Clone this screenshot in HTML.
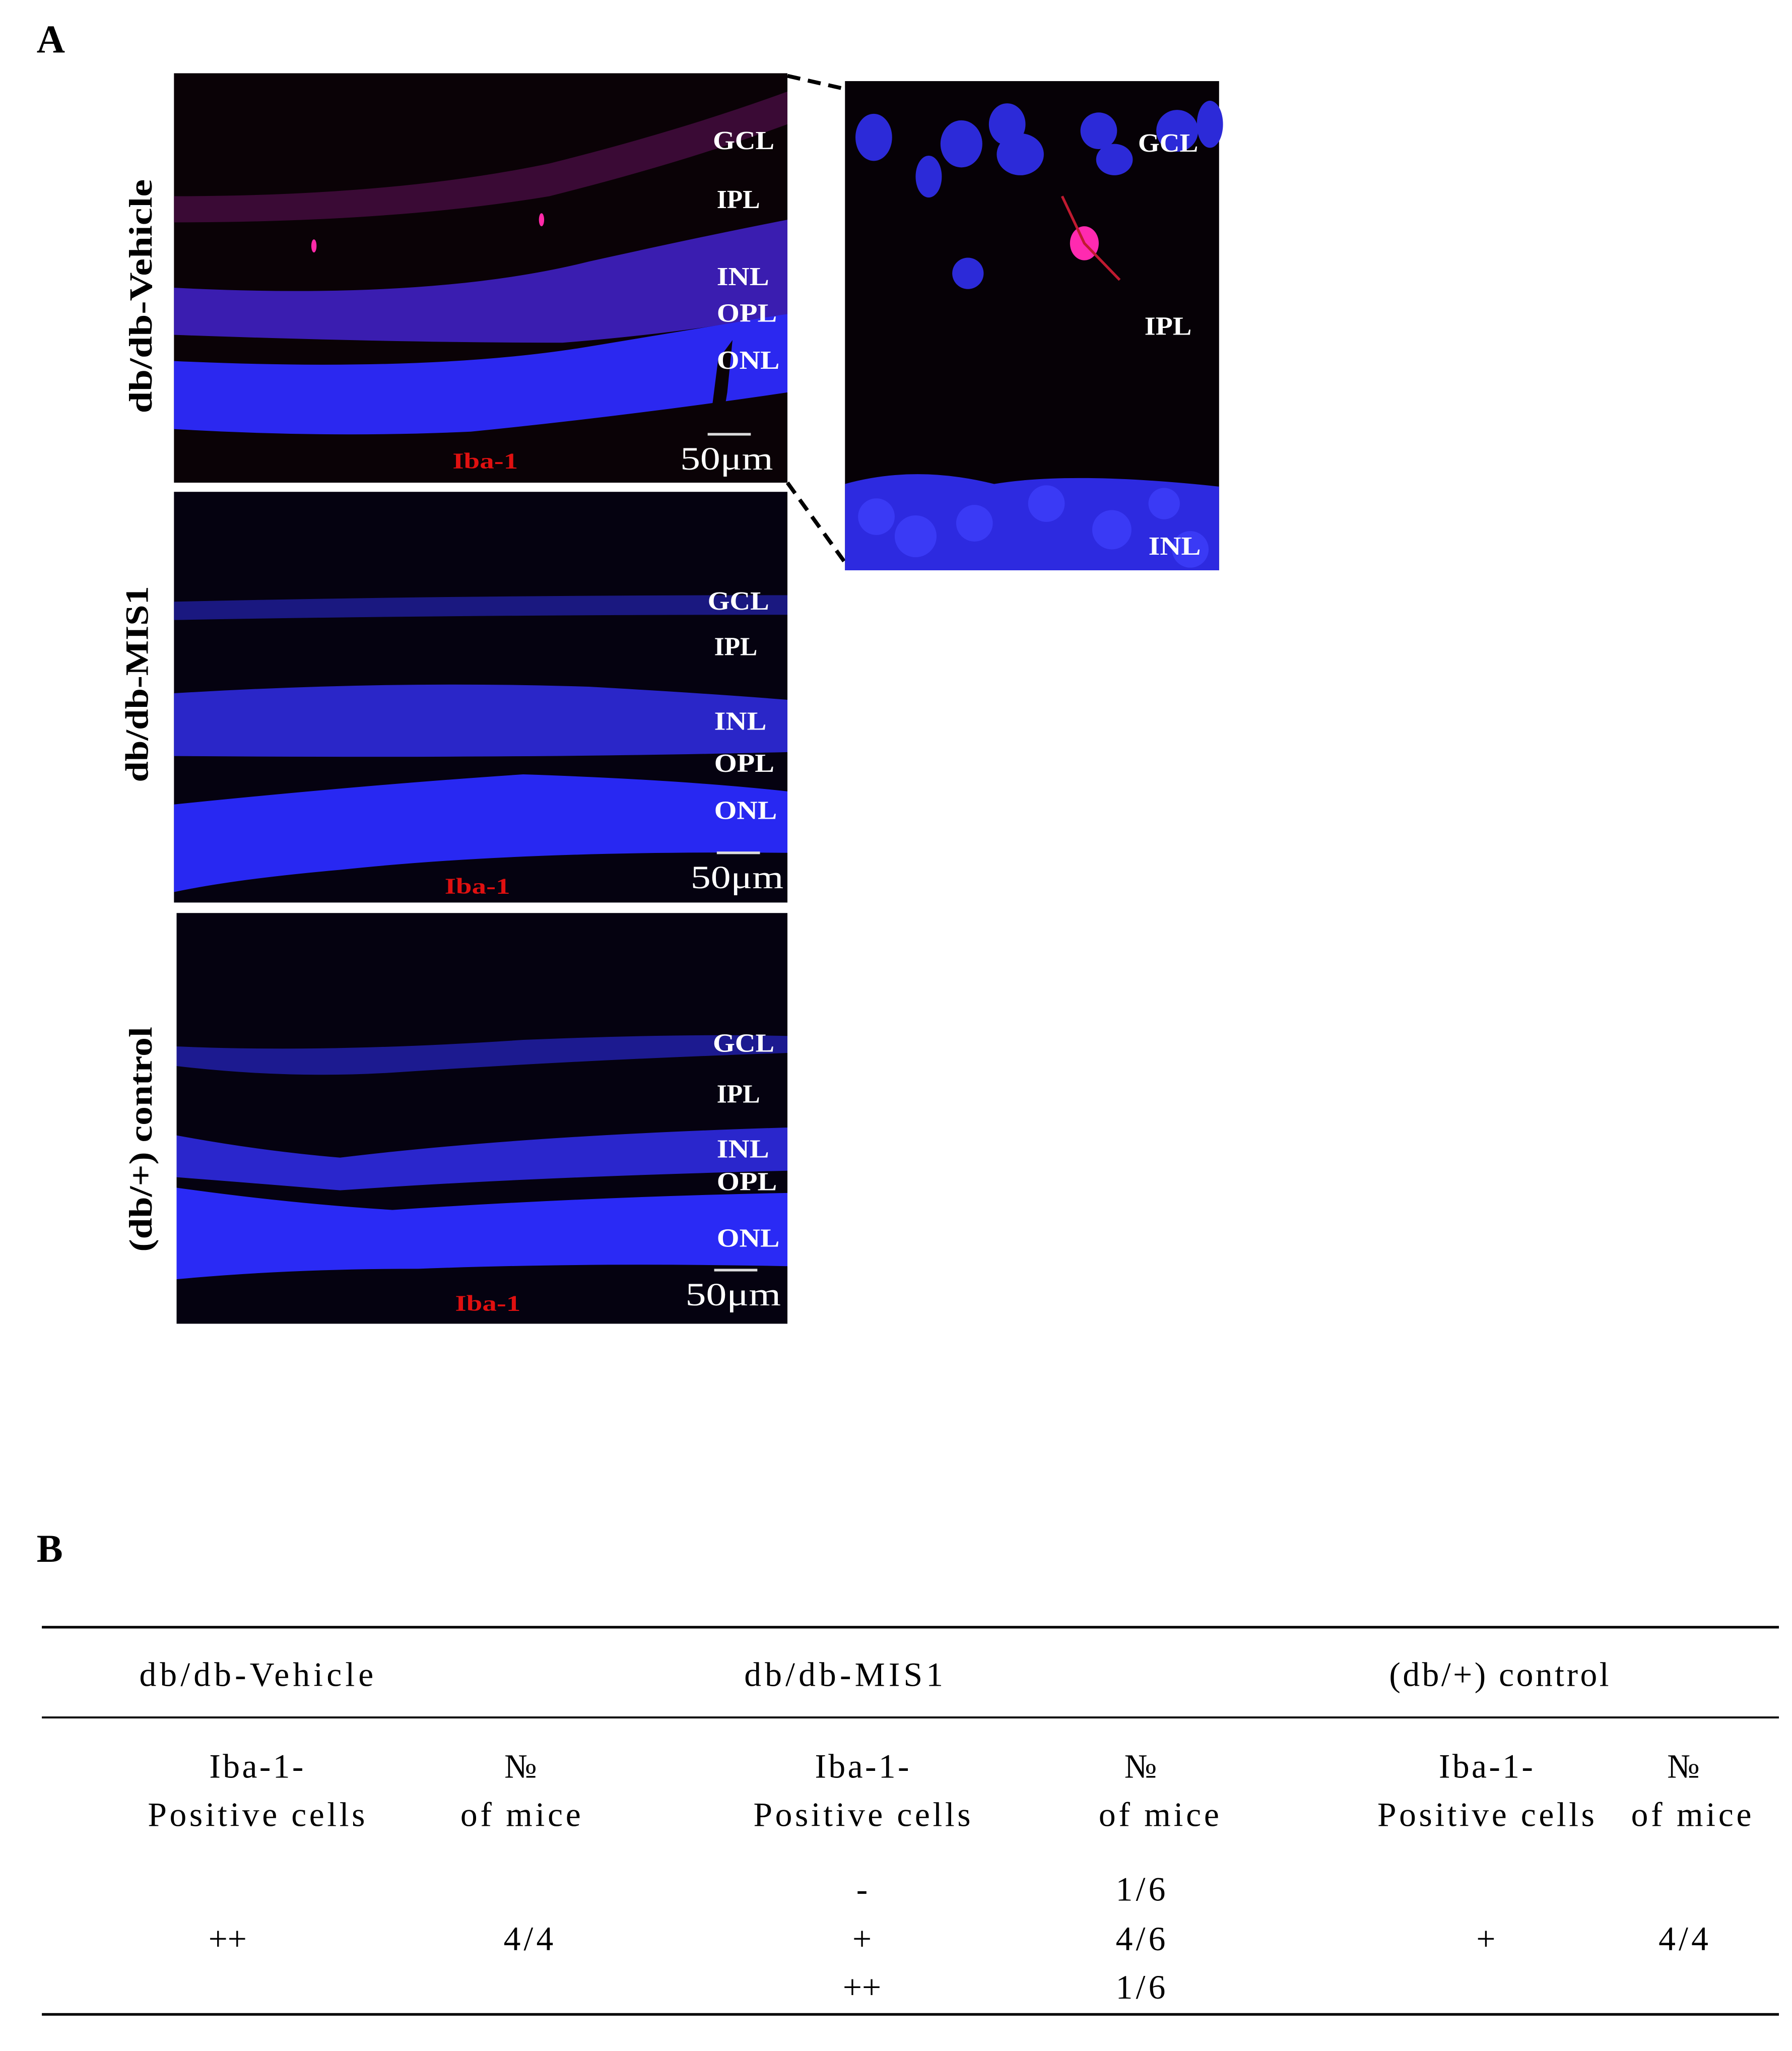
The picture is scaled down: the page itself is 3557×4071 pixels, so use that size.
<!DOCTYPE html>
<html><head><meta charset="utf-8"><style>
html,body{margin:0;padding:0;background:#fff}
svg{display:block}
text{font-family:"Liberation Serif",serif}
</style></head><body>
<svg width="3557" height="4071" viewBox="0 0 1370 1568" preserveAspectRatio="none" xmlns="http://www.w3.org/2000/svg">
<rect width="1370" height="1568" fill="#fff"/>
<text x="28" y="40" font-size="30" font-weight="bold">A</text>

<!-- Panel 1 -->
<g>
<rect x="133" y="56" width="469" height="313" fill="#0a0206"/>
<path d="M133 150 Q300 150 420 125 Q520 100 602 70 L602 95 Q520 125 420 150 Q300 170 133 170Z" fill="#3a0a35"/>
<path d="M133 220 Q330 230 450 200 Q540 180 602 168 L602 240 Q520 255 430 262 Q300 262 133 256Z" fill="#3a1db0"/>
<path d="M133 276 Q330 285 450 265 Q540 250 602 240 L602 300 Q480 318 360 330 Q250 335 133 328Z" fill="#2b28f0"/>
<path d="M549 275 L560 260 L556 300 L551 330 L542 330Z" fill="#0a0206"/>
<ellipse cx="240" cy="188" rx="2" ry="5" fill="#ff2aa8"/>
<ellipse cx="414" cy="168" rx="2" ry="5" fill="#ff2aa8"/>
<g fill="#fff" font-weight="bold" font-size="20">
<text x="545" y="114" textLength="47" lengthAdjust="spacingAndGlyphs">GCL</text><text x="548" y="159" textLength="33" lengthAdjust="spacingAndGlyphs">IPL</text><text x="548" y="218" textLength="40" lengthAdjust="spacingAndGlyphs">INL</text><text x="548" y="246" textLength="46" lengthAdjust="spacingAndGlyphs">OPL</text><text x="548" y="282" textLength="48" lengthAdjust="spacingAndGlyphs">ONL</text>
<text x="520" y="359" font-size="25" font-weight="normal" textLength="71" lengthAdjust="spacingAndGlyphs">50μm</text></g>
<rect x="541" y="331" width="33" height="2" fill="#ddd"/>
<text x="346" y="358" fill="#e01010" font-size="17" font-weight="bold" textLength="50" lengthAdjust="spacingAndGlyphs">Iba-1</text>
</g>

<line x1="602" y1="58" x2="646" y2="68" stroke="#000" stroke-width="3" stroke-dasharray="10,6"/>
<line x1="602" y1="369" x2="646" y2="430" stroke="#000" stroke-width="3" stroke-dasharray="10,6"/>

<!-- Inset -->
<g>
<rect x="646" y="62" width="286" height="374" fill="#060106"/>
<g fill="#2c2ad8">
<ellipse cx="668" cy="105" rx="14" ry="18"/><ellipse cx="710" cy="135" rx="10" ry="16"/><ellipse cx="735" cy="110" rx="16" ry="18"/><ellipse cx="770" cy="95" rx="14" ry="16"/><ellipse cx="780" cy="118" rx="18" ry="16"/><ellipse cx="840" cy="100" rx="14" ry="14"/><ellipse cx="852" cy="122" rx="14" ry="12"/><ellipse cx="900" cy="100" rx="16" ry="16"/><ellipse cx="925" cy="95" rx="10" ry="18"/><ellipse cx="740" cy="209" rx="12" ry="12"/>
</g>
<path d="M646 370 Q700 355 760 370 Q820 360 932 372 L932 436 L646 436Z" fill="#2d2ae0"/>
<g fill="#3a3af5"><circle cx="670" cy="395" r="14"/><circle cx="700" cy="410" r="16"/><circle cx="745" cy="400" r="14"/><circle cx="800" cy="385" r="14"/><circle cx="850" cy="405" r="15"/><circle cx="890" cy="385" r="12"/><circle cx="910" cy="420" r="14"/></g>
<ellipse cx="829" cy="186" rx="11" ry="13" fill="#ff2ab0"/>
<path d="M812 150 L829 186 L856 214" stroke="#c01a30" stroke-width="2" fill="none"/>
<g fill="#fff" font-weight="bold" font-size="20">
<text x="870" y="116" textLength="46" lengthAdjust="spacingAndGlyphs">GCL</text><text x="875" y="256" textLength="36" lengthAdjust="spacingAndGlyphs">IPL</text><text x="878" y="424" textLength="40" lengthAdjust="spacingAndGlyphs">INL</text></g>
</g>

<!-- Panel 2 -->
<g>
<rect x="133" y="376" width="469" height="314" fill="#050210"/>
<path d="M133 460 Q350 455 602 455 L602 470 Q350 470 133 474Z" fill="#1a1880"/>
<path d="M133 530 Q300 520 450 525 Q540 530 602 535 L602 575 Q400 580 133 578Z" fill="#2a26c8"/>
<path d="M133 615 Q280 600 400 592 Q520 596 602 605 L602 652 Q400 650 260 665 Q180 672 133 682Z" fill="#2828f2"/>
<g fill="#fff" font-weight="bold" font-size="20">
<text x="541" y="466" textLength="47" lengthAdjust="spacingAndGlyphs">GCL</text><text x="546" y="501" textLength="33" lengthAdjust="spacingAndGlyphs">IPL</text><text x="546" y="558" textLength="40" lengthAdjust="spacingAndGlyphs">INL</text><text x="546" y="590" textLength="46" lengthAdjust="spacingAndGlyphs">OPL</text><text x="546" y="626" textLength="48" lengthAdjust="spacingAndGlyphs">ONL</text>
<text x="528" y="679" font-size="25" font-weight="normal" textLength="71" lengthAdjust="spacingAndGlyphs">50μm</text></g>
<rect x="548" y="651" width="33" height="2" fill="#ddd"/>
<text x="340" y="683" fill="#e01010" font-size="17" font-weight="bold" textLength="50" lengthAdjust="spacingAndGlyphs">Iba-1</text>
</g>

<!-- Panel 3 -->
<g>
<rect x="135" y="698" width="467" height="314" fill="#050210"/>
<path d="M135 800 Q250 805 400 795 Q520 790 602 792 L602 805 Q450 810 300 820 Q220 825 135 815Z" fill="#1c1a90"/>
<path d="M135 868 Q200 880 260 885 Q400 868 602 862 L602 895 Q400 900 260 910 Q200 905 135 900Z" fill="#2a26cc"/>
<path d="M135 908 Q220 920 300 925 Q450 915 602 912 L602 968 Q450 965 320 970 Q220 970 135 978Z" fill="#2a2af5"/>
<g fill="#fff" font-weight="bold" font-size="20">
<text x="545" y="804" textLength="47" lengthAdjust="spacingAndGlyphs">GCL</text><text x="548" y="843" textLength="33" lengthAdjust="spacingAndGlyphs">IPL</text><text x="548" y="885" textLength="40" lengthAdjust="spacingAndGlyphs">INL</text><text x="548" y="910" textLength="46" lengthAdjust="spacingAndGlyphs">OPL</text><text x="548" y="953" textLength="48" lengthAdjust="spacingAndGlyphs">ONL</text>
<text x="524" y="998" font-size="25" font-weight="normal" textLength="73" lengthAdjust="spacingAndGlyphs">50μm</text></g>
<rect x="546" y="970" width="33" height="2" fill="#ddd"/>
<text x="348" y="1002" fill="#e01010" font-size="17" font-weight="bold" textLength="50" lengthAdjust="spacingAndGlyphs">Iba-1</text>
</g>

<!-- row labels -->
<g font-size="25" font-weight="bold">
<text transform="translate(116,316) rotate(-90)" textLength="179" lengthAdjust="spacingAndGlyphs">db/db-Vehicle</text>
<text transform="translate(113,598) rotate(-90)" textLength="150" lengthAdjust="spacingAndGlyphs">db/db-MIS1</text>
<text transform="translate(116,957) rotate(-90)" textLength="172" lengthAdjust="spacingAndGlyphs">(db/+) control</text>
</g>

<text x="28" y="1194" font-size="30" font-weight="bold">B</text>

<!-- Table -->
<g font-size="26">
<line x1="32" y1="1244" x2="1360" y2="1244" stroke="#000" stroke-width="2"/>
<line x1="32" y1="1313" x2="1360" y2="1313" stroke="#000" stroke-width="1.5"/>
<line x1="32" y1="1540" x2="1360" y2="1540" stroke="#000" stroke-width="2"/>
<g text-anchor="middle" lengthAdjust="spacingAndGlyphs">
<text x="196" y="1289" textLength="179">db/db-Vehicle</text>
<text x="645" y="1289" textLength="152">db/db-MIS1</text>
<text x="1146" y="1289" textLength="168">(db/+) control</text>
<text x="196" y="1359" textLength="72">Iba-1-</text><text x="196" y="1396" textLength="166">Positive cells</text>
<text x="398" y="1359" textLength="32">№</text><text x="398" y="1396" textLength="92">of mice</text>
<text x="659" y="1359" textLength="72">Iba-1-</text><text x="659" y="1396" textLength="166">Positive cells</text>
<text x="872" y="1359" textLength="32">№</text><text x="886" y="1396" textLength="92">of mice</text>
<text x="1136" y="1359" textLength="72">Iba-1-</text><text x="1136" y="1396" textLength="166">Positive cells</text>
<text x="1287" y="1359" textLength="32">№</text><text x="1293" y="1396" textLength="92">of mice</text>
<text x="174" y="1491">++</text><text x="404" y="1491" textLength="38">4/4</text>
<text x="659" y="1453">-</text><text x="659" y="1491">+</text><text x="659" y="1528">++</text>
<text x="872" y="1453" textLength="38">1/6</text><text x="872" y="1491" textLength="38">4/6</text><text x="872" y="1528" textLength="38">1/6</text>
<text x="1136" y="1491">+</text><text x="1287" y="1491" textLength="38">4/4</text>
</g></g>
</svg>
</body></html>
